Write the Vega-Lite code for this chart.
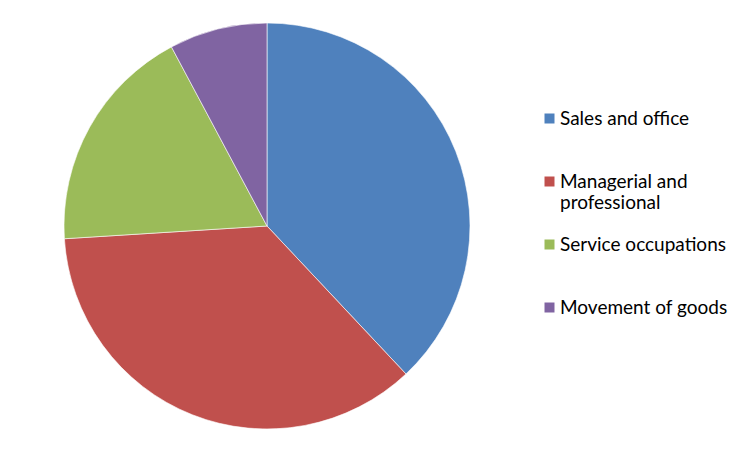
{
  "$schema": "https://vega.github.io/schema/vega-lite/v6.json",
  "width": 534,
  "height": 450,
  "padding": {"left": 0, "top": 1, "right": 219, "bottom": 0},
  "autosize": {"type": "none"},
  "background": "white",
  "data": {
    "values": [
      {"category": "Sales and office", "share": 38.0, "order": 1},
      {"category": "Managerial and professional", "share": 36.0, "order": 2},
      {"category": "Service occupations", "share": 18.2, "order": 3},
      {"category": "Movement of goods", "share": 7.8, "order": 4}
    ]
  },
  "mark": {"type": "arc", "outerRadius": 203, "stroke": "#ffffff", "strokeWidth": 0.6},
  "encoding": {
    "theta": {"field": "share", "type": "quantitative", "stack": true},
    "order": {"field": "order", "type": "quantitative"},
    "color": {
      "field": "category",
      "type": "nominal",
      "sort": ["Sales and office", "Managerial and professional", "Service occupations", "Movement of goods"],
      "scale": {"range": ["#4F81BD", "#C0504D", "#9BBB59", "#8064A2"]},
      "legend": {
        "title": null,
        "orient": "none",
        "legendX": 540,
        "legendY": 108,
        "symbolType": "square",
        "symbolSize": 100,
        "symbolStrokeWidth": 0,
        "labelFont": "Lato",
        "labelFontSize": 19,
        "labelLineHeight": 26,
        "labelColor": "#000000",
        "labelLimit": 300,
        "rowPadding": 22,
        "padding": 0,
        "labelOffset": 1,
        "labelExpr": "datum.label == 'Managerial and professional' ? ['Managerial and', 'professional'] : [datum.label, '']"
      }
    }
  },
  "config": {"view": {"stroke": null}}
}
